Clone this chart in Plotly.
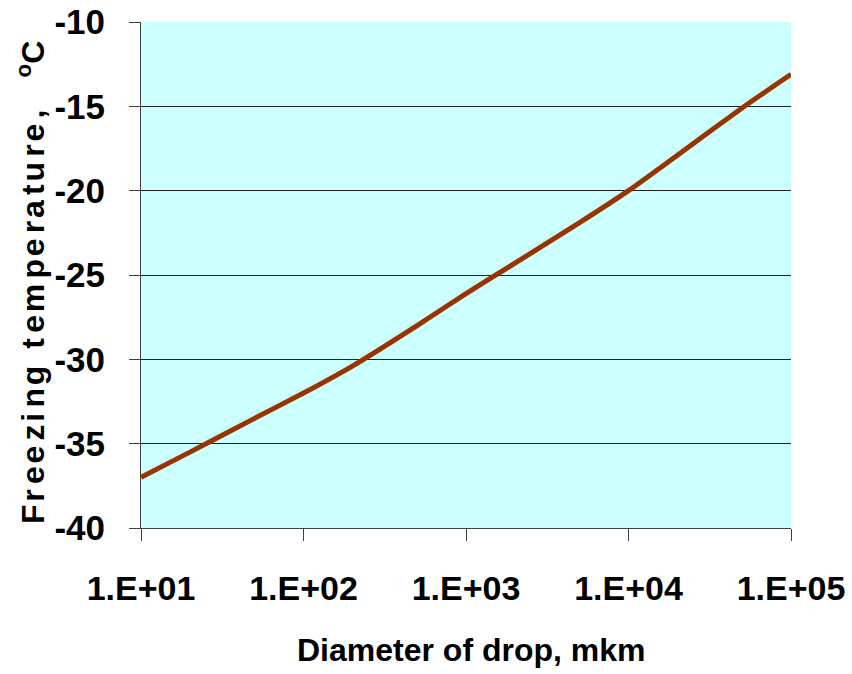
import plotly.graph_objects as go

# Data
diameter_mkm = [10, 20, 50, 100, 200, 500, 1000, 2000, 5000, 10000, 20000, 50000, 100000]
freezing_temp_c = [-37.0, -35.5, -33.5, -32.0, -30.4, -28.0, -26.1, -24.3, -21.9, -20.0, -17.9, -15.1, -13.1]

x_tickvals = [10, 100, 1000, 10000, 100000]
x_ticktext = ["1.E+01", "1.E+02", "1.E+03", "1.E+04", "1.E+05"]
y_tickvals = [-40, -35, -30, -25, -20, -15, -10]
y_ticktext = ["-40", "-35", "-30", "-25", "-20", "-15", "-10"]

W, H = 852, 674
L, R, T, B = 141, 61, 22, 146

FONT = "Liberation Sans, Arial, sans-serif"

fig = go.Figure()
fig.add_trace(go.Scatter(
    x=diameter_mkm, y=freezing_temp_c, mode="lines",
    line=dict(color="#993300", width=5, shape="spline", smoothing=0.6),
    showlegend=False, hoverinfo="skip",
))

fig.update_layout(
    width=W, height=H,
    margin=dict(l=L, r=R, t=T, b=B, pad=0),
    paper_bgcolor="white",
    plot_bgcolor="#CCFFFF",
    font=dict(family=FONT, color="black", size=32, weight="bold"),
    xaxis=dict(
        type="log", range=[1, 5], automargin=False,
        tickvals=x_tickvals, ticktext=x_ticktext,
        showgrid=False, zeroline=False,
        showline=True, linecolor="#404040", linewidth=1,
        ticks="outside", ticklen=12, tickcolor="#404040", tickwidth=1,
        tickfont=dict(family=FONT, size=34, color="black", weight="bold"),
        ticklabelstandoff=18,
    ),
    yaxis=dict(
        range=[-40, -10], automargin=False,
        tickvals=y_tickvals, ticktext=y_ticktext,
        showgrid=True, gridcolor="#202020", gridwidth=1,
        zeroline=False,
        showline=True, linecolor="#404040", linewidth=1,
        ticks="outside", ticklen=11, tickcolor="#404040", tickwidth=1,
        tickfont=dict(family=FONT, size=35, color="black", weight="bold"),
        ticklabelstandoff=17,
    ),
)

# letter-spaced y title (alternating one and two hair spaces between letters)
chars = list("Freezing temperature,")
parts = []
for i, ch in enumerate(chars):
    parts.append(ch)
    if i < len(chars) - 1:
        parts.append("\u200a" if i % 2 == 0 else "\u200a\u200a")
ytitle = "".join(parts) + "\u2003" + "<sup>o</sup>C"

fig.add_annotation(
    text="Diameter of drop, mkm",
    xref="paper", yref="paper",
    x=(471 - L) / (W - L - R), y=-(650 - (H - B)) / (H - T - B),
    xanchor="center", yanchor="middle", showarrow=False,
    font=dict(family=FONT, size=32, color="black", weight="bold"),
)
fig.add_annotation(
    text=ytitle,
    xref="paper", yref="paper",
    x=(31 - L) / (W - L - R), y=((H - B) - 283) / (H - T - B),
    xanchor="center", yanchor="middle", textangle=-90, showarrow=False,
    font=dict(family=FONT, size=32, color="black", weight="bold"),
)

fig.write_html("out.html")
